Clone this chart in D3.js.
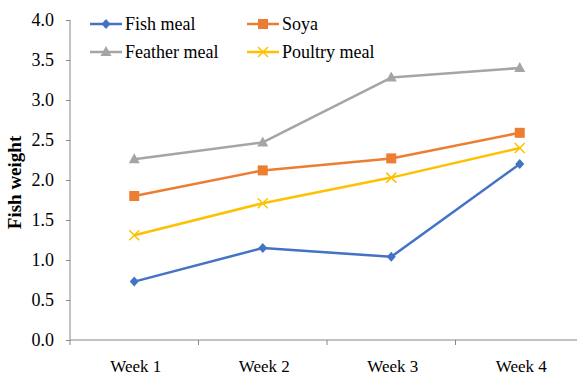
<!DOCTYPE html>
<html><head><meta charset="utf-8">
<script src="https://cdn.jsdelivr.net/npm/d3@7"></script>
<style>body{margin:0;background:#fff}svg{display:block}</style>
</head><body>
<svg id="c" width="577" height="376"></svg>
<script>
const categories = ["Week 1","Week 2","Week 3","Week 4"];
const seriesNames = ["Fish meal","Soya","Feather meal","Poultry meal"];
const fishMeal = [0.73, 1.15, 1.04, 2.20];
const soya = [1.80, 2.12, 2.27, 2.59];
const featherMeal = [2.26, 2.47, 3.28, 3.40];
const poultryMeal = [1.31, 1.71, 2.03, 2.40];
const yTicks = [0,0.5,1,1.5,2,2.5,3,3.5,4];
const colors = ["#4472C4","#ED7D31","#A5A5A5","#FFC000"];
const markers = ["diamond","square","triangle","x"];
const values = [fishMeal, soya, featherMeal, poultryMeal];

const svg = d3.select("#c");
const font = "'Liberation Serif','Times New Roman',serif";
const x = d3.scaleBand().domain(categories).range([70,584]);
const y = d3.scaleLinear().domain([0,4]).range([340,20]);

// y axis
const ya = svg.append("g").attr("transform","translate(70,0)")
  .call(d3.axisLeft(y).tickValues(yTicks).tickFormat(d3.format(".1f")).tickSize(4).tickPadding(12));
ya.select(".domain").attr("stroke","#868686").attr("d","M0,20V340");
ya.selectAll(".tick line").attr("stroke","#868686");
ya.selectAll("text").style("font-family",font).attr("font-size",18).attr("fill","#000");

// x axis
const xa = svg.append("g").attr("transform","translate(0,340)")
  .call(d3.axisBottom(x).tickSize(0).tickPadding(20));
xa.select(".domain").attr("stroke","#868686").attr("d","M70,0H584");
xa.selectAll("text").style("font-family",font).attr("font-size",17).attr("fill","#000").attr("dx","1.5");
// category boundary ticks
xa.selectAll("line.bt").data(categories.concat(["end"])).enter().append("line")
  .attr("class","bt")
  .attr("x1",(d,i)=> i<categories.length ? x(d) : x.range()[1])
  .attr("x2",(d,i)=> i<categories.length ? x(d) : x.range()[1])
  .attr("y1",0).attr("y2",5).attr("stroke","#868686");

// y title
svg.append("text").attr("transform","translate(21,182.5) rotate(-90)")
  .attr("text-anchor","middle").style("font-family",font).attr("font-weight","bold")
  .attr("font-size",19).text("Fish weight");

function drawMarker(g, type, color, cx, cy){
  if(type==="diamond"){
    g.append("path").attr("d",`M${cx},${cy-5}L${cx+4.5},${cy}L${cx},${cy+5}L${cx-4.5},${cy}Z`).attr("fill",color);
  } else if(type==="square"){
    g.append("rect").attr("x",cx-5).attr("y",cy-5).attr("width",10).attr("height",10).attr("fill",color);
  } else if(type==="triangle"){
    g.append("path").attr("d",`M${cx},${cy-6}L${cx+5.5},${cy+4}L${cx-5.5},${cy+4}Z`).attr("fill",color);
  } else {
    g.append("path").attr("d",`M${cx-5},${cy-5}L${cx+5},${cy+5}M${cx-5},${cy+5}L${cx+5},${cy-5}`).attr("stroke",color).attr("stroke-width",1.5);
  }
}

const line = d3.line().x((d,i)=>x(categories[i])+x.bandwidth()/2).y(d=>y(d));
const order = [2,1,3,0];
order.forEach(s=>{
  const g = svg.append("g");
  g.append("path").datum(values[s]).attr("d",line).attr("fill","none")
    .attr("stroke",colors[s]).attr("stroke-width",2.5).attr("stroke-linejoin","round");
  values[s].forEach((v,i)=>drawMarker(g, markers[s], colors[s], x(categories[i])+x.bandwidth()/2, y(v)));
});

// legend
const legPos = [[90,24],[247,24],[90,52],[247,52]];
seriesNames.forEach((n,s)=>{
  const [lx,ly] = legPos[s];
  const g = svg.append("g");
  g.append("line").attr("x1",lx).attr("x2",lx+32).attr("y1",ly).attr("y2",ly)
    .attr("stroke",colors[s]).attr("stroke-width",2.5);
  drawMarker(g, markers[s], colors[s], lx+16, ly);
  g.append("text").attr("x",lx+35).attr("y",ly).attr("dy","0.35em")
    .style("font-family",font).attr("font-size",18).text(n);
});
</script>
</body></html>
